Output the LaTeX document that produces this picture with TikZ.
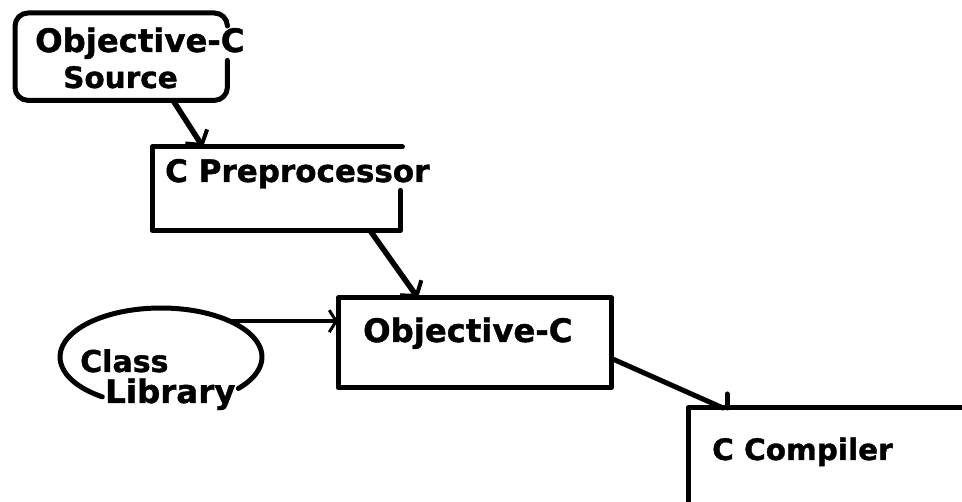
\documentclass[tikz,border=0pt]{standalone}
\usepackage{fontspec}
\setmainfont{DejaVu Sans}
\usetikzlibrary{arrows.meta,shapes.geometric,calc}
\tikzset{
  box/.style={draw=none, inner sep=0pt, anchor=north west},
  edge/.style={line width=5pt, line cap=round, line join=round},
  lbl/.style={inner sep=0pt, anchor=base west, font=\bfseries\fontsize{#1}{#1}\selectfont\addfontfeature{FakeBold=1.2}},
  flow/.style={line width=5.5pt, -{Straight Barb[length=10pt,width=26pt,line width=4pt]}},
  thinflow/.style={line width=3.5pt, -{Straight Barb[length=7pt,width=22pt,line width=3pt]}},
}
\begin{document}
\begin{tikzpicture}[x=1pt,y=1pt]
\useasboundingbox[fill=white] (0,0) rectangle (962,502);
% nodes (outlines drawn below)
\node[box, minimum width=212pt, minimum height=87pt] (src) at (15,489) {};
\node[box, minimum width=248pt, minimum height=83pt] (pre) at (152,355) {};
\node[box, minimum width=273pt, minimum height=89pt] (objc) at (338,204) {};
\node[box, minimum width=300pt, minimum height=120pt] (cc) at (688,94) {};
\node[ellipse, draw=none, minimum width=202pt, minimum height=98pt, inner sep=0pt] (lib) at (161,145) {};
% outlines
\draw[edge, rounded corners=13pt] ([yshift=40pt]src.south east) -- (src.south east) -- (src.south west) -- (src.north west) -- (src.north east) -- ([yshift=-12pt]src.north east);
\draw[edge] ([yshift=40pt]pre.south east) -- (pre.south east) -- (pre.south west) -- (pre.north west) -- ([xshift=2pt]pre.north east);
\draw[edge] (objc.south west) rectangle (objc.north east);
\draw[edge] (cc.south west) rectangle (cc.north east);
\draw[edge] (lib.center) ++(234.5:101pt and 49pt) arc[start angle=234.5, end angle=-40, x radius=101pt, y radius=49pt];
% labels
\node[lbl=32.3] (t1) at (35,450) {Objective-C};
\node[lbl=29.5] (t2) at (63,414) {Source};
\node[lbl=31] (t3) at (165,320) {C Preprocessor};
\node[lbl=32.3] (t4) at (363,160) {Objective-C};
\node[lbl=29.5] (t5) at (712,42) {C Compiler};
\node[lbl=30] (t6) at (80,130) {Class};
\node[lbl=32.5] (t7) at (105,99) {Library};
% connectors
\coordinate (libout) at ($(lib.center)+(47:101pt and 49pt)$);
\draw[flow] ([xshift=158pt]src.south west) -- ([xshift=51pt]pre.north west);
\draw[flow] ([xshift=218pt]pre.south west) -- ([xshift=80pt]objc.north west);
\draw[thinflow] (libout) -- (libout -| objc.west);
\draw[edge] ([yshift=29pt]objc.south east) -- ([xshift=35pt]cc.north west);
\draw[edge] ([xshift=39pt]cc.north west) -- ++(0,14pt);
\end{tikzpicture}
\end{document}
